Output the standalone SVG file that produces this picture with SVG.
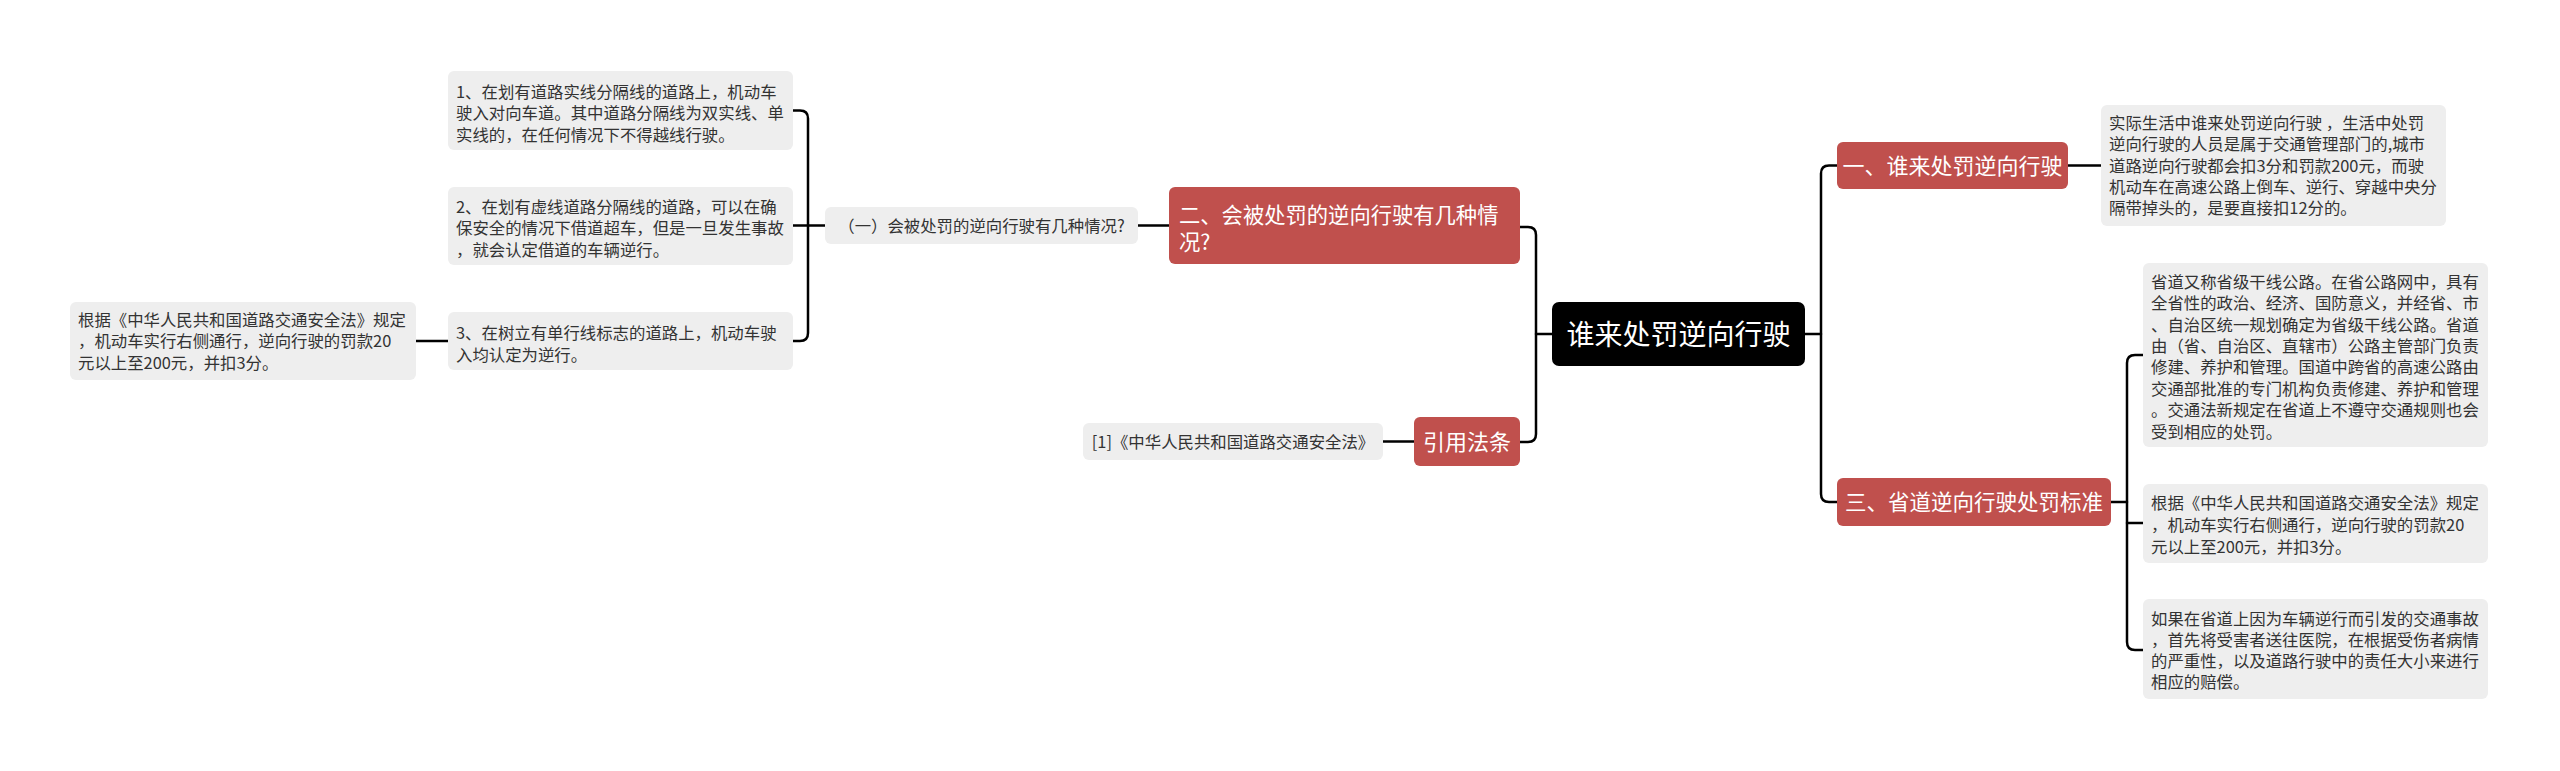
<svg xmlns="http://www.w3.org/2000/svg" width="2560" height="771" viewBox="0 0 2560 771">
<style>
.bg{fill:#ffffff}
.root{fill:#000000}
.red{fill:#c0504d}
.detail{fill:#eeeeee}
.wt{fill:#ffffff;font-family:"Noto Sans CJK SC","Noto Sans",sans-serif}
.dt{fill:#333333;font-family:"Noto Sans CJK SC","Noto Sans",sans-serif;font-size:16.4px}
.ln{fill:none;stroke:#000000;stroke-width:2.5;stroke-linecap:round;stroke-linejoin:round}
</style>
<rect class="bg" x="0" y="0" width="2560" height="771"/>
<g id="connectors">
<path class="ln" d="M1552,334 H1536"/>
<path class="ln" d="M1520,227 H1528 Q1536,227 1536,235 V434 Q1536,442 1528,442 H1520"/>
<path class="ln" d="M1805,334 H1821"/>
<path class="ln" d="M1837,165.5 H1829 Q1821,165.5 1821,173.5 V494 Q1821,502 1829,502 H1837"/>
<path class="ln" d="M2068,165.5 H2101"/>
<path class="ln" d="M2111,502 H2127"/>
<path class="ln" d="M2143,355 H2135 Q2127,355 2127,363 V642 Q2127,650 2135,650 H2143"/>
<path class="ln" d="M2127,523 H2143"/>
<path class="ln" d="M1169,225.5 H1138"/>
<path class="ln" d="M825,225.5 H808"/>
<path class="ln" d="M793,110.5 H800 Q808,110.5 808,118.5 V333 Q808,341 800,341 H793"/>
<path class="ln" d="M808,225.5 H793"/>
<path class="ln" d="M448,341 H416"/>
<path class="ln" d="M1414,441.5 H1383"/>
</g>
<g id="root">
<rect class="root" x="1552" y="302" width="253" height="64" rx="7"/>
<text class="wt" x="1678.5" y="344.5" font-size="28" text-anchor="middle">谁来处罚逆向行驶</text>
</g>
<g id="n1">
<rect class="red" x="1837" y="142" width="231" height="47" rx="6"/>
<text class="wt" x="1952.5" y="173.5" font-size="22" text-anchor="middle">一、谁来处罚逆向行驶</text>
</g>
<g id="n1d">
<rect class="detail" x="2101" y="105" width="345" height="121" rx="6"/>
<text class="dt" x="2109" y="129">实际生活中谁来处罚逆向行驶 ，生活中处罚</text>
<text class="dt" x="2109" y="150.3">逆向行驶的人员是属于交通管理部门的,城市</text>
<text class="dt" x="2109" y="171.5">道路逆向行驶都会扣3分和罚款200元，而驶</text>
<text class="dt" x="2109" y="192.8">机动车在高速公路上倒车、逆行、穿越中央分</text>
<text class="dt" x="2109" y="214">隔带掉头的，是要直接扣12分的。</text>
</g>
<g id="n3">
<rect class="red" x="1837" y="478" width="274" height="48" rx="6"/>
<text class="wt" x="1974" y="510" font-size="21.5" text-anchor="middle">三、省道逆向行驶处罚标准</text>
</g>
<g id="n3d1">
<rect class="detail" x="2143" y="263" width="345" height="184" rx="6"/>
<text class="dt" x="2151" y="287.7">省道又称省级干线公路。在省公路网中，具有</text>
<text class="dt" x="2151" y="309.1">全省性的政治、经济、国防意义，并经省、市</text>
<text class="dt" x="2151" y="330.6">、自治区统一规划确定为省级干线公路。省道</text>
<text class="dt" x="2151" y="352">由（省、自治区、直辖市）公路主管部门负责</text>
<text class="dt" x="2151" y="373.4">修建、养护和管理。国道中跨省的高速公路由</text>
<text class="dt" x="2151" y="394.8">交通部批准的专门机构负责修建、养护和管理</text>
<text class="dt" x="2151" y="416.3">。交通法新规定在省道上不遵守交通规则也会</text>
<text class="dt" x="2151" y="437.7">受到相应的处罚。</text>
</g>
<g id="n3d2">
<rect class="detail" x="2143" y="484" width="345" height="79" rx="6"/>
<text class="dt" x="2151" y="509">根据《中华人民共和国道路交通安全法》规定</text>
<text class="dt" x="2151" y="530.8">，机动车实行右侧通行，逆向行驶的罚款20</text>
<text class="dt" x="2151" y="552.6">元以上至200元，并扣3分。</text>
</g>
<g id="n3d3">
<rect class="detail" x="2143" y="599" width="345" height="100" rx="6"/>
<text class="dt" x="2151" y="625.3">如果在省道上因为车辆逆行而引发的交通事故</text>
<text class="dt" x="2151" y="646.1">，首先将受害者送往医院，在根据受伤者病情</text>
<text class="dt" x="2151" y="666.9">的严重性，以及道路行驶中的责任大小来进行</text>
<text class="dt" x="2151" y="687.7">相应的赔偿。</text>
</g>
<g id="n2">
<rect class="red" x="1169" y="187" width="351" height="77" rx="6"/>
<text class="wt" x="1179" y="223" font-size="21.3">二、会被处罚的逆向行驶有几种情</text>
<text class="wt" x="1179" y="249.7" font-size="21.3">况?</text>
</g>
<g id="n2a">
<rect class="detail" x="825" y="207" width="313" height="37" rx="6"/>
<text class="dt" x="981.5" y="231.5" text-anchor="middle">（一）会被处罚的逆向行驶有几种情况?</text>
</g>
<g id="n2a1">
<rect class="detail" x="448" y="71" width="345" height="79" rx="6"/>
<text class="dt" x="456" y="97.7">1、在划有道路实线分隔线的道路上，机动车</text>
<text class="dt" x="456" y="119.3">驶入对向车道。其中道路分隔线为双实线、单</text>
<text class="dt" x="456" y="141">实线的，在任何情况下不得越线行驶。</text>
</g>
<g id="n2a2">
<rect class="detail" x="448" y="187" width="345" height="78" rx="6"/>
<text class="dt" x="456" y="212.7">2、在划有虚线道路分隔线的道路，可以在确</text>
<text class="dt" x="456" y="234.3">保安全的情况下借道超车，但是一旦发生事故</text>
<text class="dt" x="456" y="256">，就会认定借道的车辆逆行。</text>
</g>
<g id="n2a3">
<rect class="detail" x="448" y="312" width="345" height="58" rx="6"/>
<text class="dt" x="456" y="339.3">3、在树立有单行线标志的道路上，机动车驶</text>
<text class="dt" x="456" y="361">入均认定为逆行。</text>
</g>
<g id="n2a3a">
<rect class="detail" x="70" y="302" width="346" height="78" rx="6"/>
<text class="dt" x="78" y="325.5">根据《中华人民共和国道路交通安全法》规定</text>
<text class="dt" x="78" y="347">，机动车实行右侧通行，逆向行驶的罚款20</text>
<text class="dt" x="78" y="368.5">元以上至200元，并扣3分。</text>
</g>
<g id="n4">
<rect class="red" x="1414" y="417" width="106" height="49" rx="6"/>
<text class="wt" x="1467" y="449.5" font-size="22" text-anchor="middle">引用法条</text>
</g>
<g id="n4a">
<rect class="detail" x="1083" y="423" width="300" height="37" rx="6"/>
<text class="dt" x="1233" y="447.5" font-size="16" text-anchor="middle">[1]《中华人民共和国道路交通安全法》</text>
</g>
</svg>
